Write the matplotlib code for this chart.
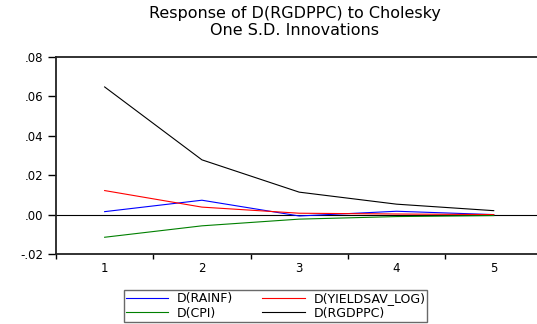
import matplotlib.pyplot as plt
from matplotlib.ticker import FixedLocator, FuncFormatter

plt.rcParams["font.family"] = ["DejaVu Sans"]

periods = [1, 2, 3, 4, 5]
rainf = [0.0015, 0.0073, -0.0007, 0.0017, 0.0000]
yieldsav = [0.0122, 0.0038, 0.0007, 0.0003, 0.0000]
cpi = [-0.0115, -0.0057, -0.0023, -0.0010, -0.0005]
rgdppc = [0.0648, 0.0278, 0.0114, 0.0053, 0.0020]

fig = plt.figure(figsize=(5.37, 3.24), dpi=100)
ax = fig.add_axes([56 / 537, 1 - 254 / 324, 1 - 56 / 537 + 0.01, 197 / 324])

ax.plot(periods, rainf, color="#0000ff", lw=0.8, label="D(RAINF)")
ax.plot(periods, yieldsav, color="#ff0000", lw=0.8, label="D(YIELDSAV_LOG)")
ax.plot(periods, cpi, color="#008000", lw=0.8, label="D(CPI)")
ax.plot(periods, rgdppc, color="#000000", lw=0.8, label="D(RGDPPC)")
ax.axhline(0, color="#000000", lw=0.8, zorder=0)

ax.set_xlim(0.5, 5.5)
ax.set_ylim(-0.02, 0.08)
ax.set_yticks([-0.02, 0.0, 0.02, 0.04, 0.06, 0.08])
ax.yaxis.set_major_formatter(FuncFormatter(lambda v, p: f"{v:.2f}".replace("0.", ".")))
ax.set_xticks(periods)
ax.xaxis.set_minor_locator(FixedLocator([0.5, 1.5, 2.5, 3.5, 4.5, 5.5]))
ax.tick_params(axis="x", which="major", length=0, pad=6, labelsize=8.5)
ax.tick_params(axis="x", which="minor", length=3.6, width=1, direction="out")
ax.tick_params(axis="y", length=5.5, width=1, direction="out", labelsize=8.5, pad=3.5)

ax.spines["right"].set_visible(False)
for s in ["left", "bottom", "top"]:
    ax.spines[s].set_linewidth(1.3)
    ax.spines[s].set_color("#222222")

fig.text(295 / 537, 1 - 6 / 324, "Response of D(RGDPPC) to Cholesky\nOne S.D. Innovations",
         ha="center", va="top", fontsize=11.5, linespacing=1.2)

handles, labels = ax.get_legend_handles_labels()
order = [0, 2, 1, 3]
leg = fig.legend([handles[i] for i in order], [labels[i] for i in order],
                 ncol=2, loc="upper left", bbox_to_anchor=(124 / 537, 1 - 290 / 324),
                 fontsize=9, frameon=True, fancybox=False, handlelength=3.4,
                 borderpad=0.15, borderaxespad=0, labelspacing=0.15,
                 columnspacing=2.3, handletextpad=0.7)
leg.get_frame().set_edgecolor("#444444")
leg.get_frame().set_linewidth(1)

fig.savefig("out.png", dpi=100)
